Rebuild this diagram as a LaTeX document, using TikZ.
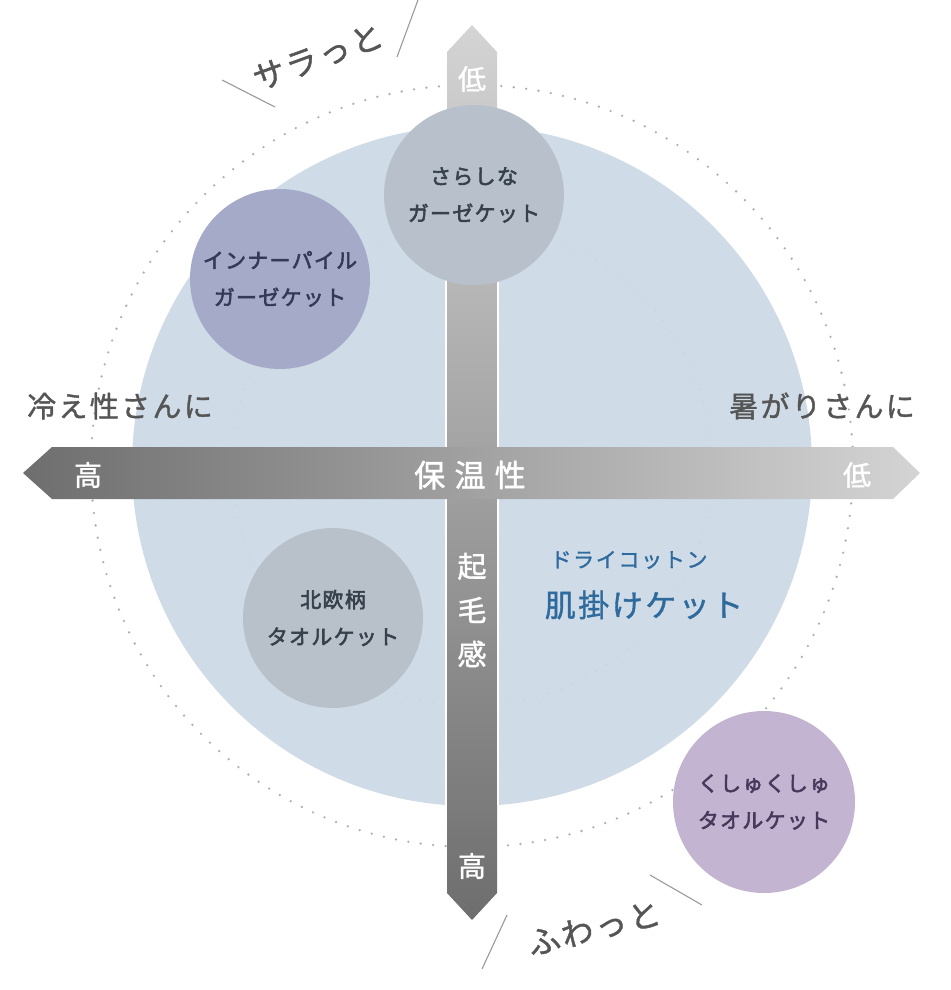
\documentclass[tikz,border=0pt]{standalone}
\usepackage{fontspec}
\newfontfamily\jp[FakeBold=1.3]{Noto Sans CJK JP}
\newfontfamily\jpls[FakeBold=1.3,LetterSpace=8]{Noto Sans CJK JP}
\newfontfamily\jpbub[FakeBold=2.6,LetterSpace=6]{Noto Sans CJK JP}
\newfontfamily\jpwide[FakeBold=1.5,LetterSpace=30]{Noto Sans CJK JP}
\definecolor{bigfill}{HTML}{CFDCE8}
\definecolor{txtgray}{HTML}{555555}
\definecolor{bardark}{HTML}{6E6E6E}
\definecolor{barlight}{HTML}{D4D4D4}
\definecolor{dotgray}{HTML}{B0B0B0}
\definecolor{linegray}{HTML}{9A9A9A}
\definecolor{cSara}{HTML}{B8C1CB}
\definecolor{cInner}{HTML}{A4AAC7}
\definecolor{cHoku}{HTML}{B8C0CA}
\definecolor{cKushu}{HTML}{C3B4D2}
\definecolor{tSara}{HTML}{36414C}
\definecolor{tInner}{HTML}{343958}
\definecolor{tKushu}{HTML}{47395B}
\definecolor{blueTxt}{HTML}{2F6A9D}
\begin{document}
\begin{tikzpicture}[x=1pt,y=-1pt,
  bubble/.style={circle, minimum size=180pt, inner sep=0pt, align=center,
    font=\jpbub\fontsize{21}{37}\selectfont},
  sidelbl/.style={inner sep=0pt, text=txtgray, font=\jpls\fontsize{29}{32}\selectfont},
  barlbl/.style={inner sep=0pt, text=white, font=\jp\fontsize{28}{30}\selectfont},
  feel/.style={inner sep=0pt, text=txtgray, font=\jpls\fontsize{32}{34}\selectfont},
  deco/.style={draw=linegray, line width=1.1pt}]
\useasboundingbox (0,0) rectangle (950,990);
% big circle
\fill[bigfill] (472,466) circle[radius=340];
\draw[color=bigfill!80!gray!90!white, line width=1.4pt, dash pattern=on 0pt off 13pt, line cap=round] (472,466) circle[radius=240];
% outer dotted circle
\draw[dotgray, line width=2.6pt, dash pattern=on 0pt off 12.5pt, line cap=round] (472,466) circle[radius=381];
% vertical arrow
\shade[top color=barlight, bottom color=bardark] (447,52) -- (472,25) -- (497,52) -- (497,893) -- (472,920) -- (447,893) -- cycle;
\draw[white, line width=1.5pt] (446,128) -- (446,805);
\draw[white, line width=1.5pt] (498,128) -- (498,805);
% horizontal arrow
\shade[left color=bardark, right color=barlight] (52,447) -- (23,473) -- (52,499) -- (893,499) -- (920,473) -- (893,447) -- cycle;
% bubbles
\node[bubble, fill=cSara, text=tSara] (sara) at (474,195) {さらしな\\ガーゼケット};
\node[bubble, fill=cInner, text=tInner] (inner) at (280,279) {インナーパイル\\ガーゼケット};
\node[bubble, fill=cHoku, text=tSara] (hoku) at (333,618) {北欧柄\\タオルケット};
\node[bubble, fill=cKushu, text=tKushu, minimum size=182pt] (kushu) at (764,802) {くしゅくしゅ\\タオルケット};
% bar labels
\node[barlbl] (hhigh) at (88,475) {高};
\node[barlbl, font=\jpwide\fontsize{31}{30}\selectfont] (hname) at (470,475) {保温性};
\node[barlbl] (hlow) at (857,475) {低};
\node[barlbl] (vlow) at (472,79) {低};
\node[barlbl, align=center, font=\jp\fontsize{29}{44}\selectfont] (vname) at (472,610) {起\\毛\\感};
\node[barlbl] (vhigh) at (472,866) {高};
% side labels
\node[sidelbl] (cold) at (120,406) {冷え性さんに};
\node[sidelbl] (hot) at (822,406) {暑がりさんに};
% product in centre
\node[inner sep=0pt, text=blueTxt, font=\jpls\fontsize{21}{22}\selectfont] (dry) at (629,560) {ドライコットン};
\node[inner sep=0pt, text=blueTxt, font=\jpls\fontsize{31}{32}\selectfont] (hada) at (644,605) {肌掛けケット};
% feel labels
\node[feel, rotate=20] (sarat) at (318,57) {サラっと};
\node[feel, rotate=14] (fuwat) at (594,928) {ふわっと};
\coordinate (s1a) at (222,80); \coordinate (s1b) at (275,107);
\coordinate (s2a) at (418,0); \coordinate (s2b) at (397,57);
\coordinate (f1a) at (507,915); \coordinate (f1b) at (482,969);
\coordinate (f2a) at (650,875); \coordinate (f2b) at (702,905);
\draw[deco] (s1a) -- (s1b);
\draw[deco] (s2a) -- (s2b);
\draw[deco] (f1a) -- (f1b);
\draw[deco] (f2a) -- (f2b);
\end{tikzpicture}
\end{document}
